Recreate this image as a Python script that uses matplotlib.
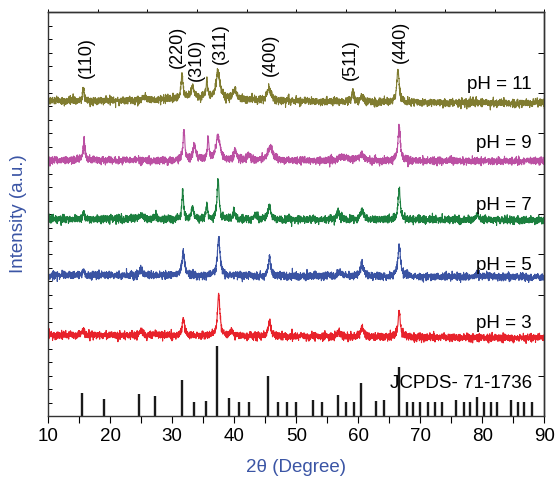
import numpy as np
import matplotlib
matplotlib.use('Agg')
import matplotlib.pyplot as plt

plt.rcParams['font.family'] = ['Liberation Sans', 'DejaVu Sans']

# reference pattern JCPDS 71-1736 (2theta, relative intensity)
ref_pos = [15.4, 18.95, 24.7, 27.2, 31.6, 33.6, 35.5, 37.2, 39.1, 40.7, 42.4,
           45.5, 47.0, 48.5, 49.9, 52.7, 54.1, 56.7, 58.0, 59.3, 60.5, 62.9,
           64.2, 66.6, 67.8, 68.9, 70.0, 71.2, 72.4, 73.5, 75.8, 77.0, 78.0,
           79.2, 80.3, 81.4, 82.4, 84.7, 85.7, 86.8, 88.0]
ref_int = [33, 25, 32, 29, 51, 20, 22, 100, 26, 20, 20,
           57, 20, 20, 20, 23, 20, 30, 20, 20, 47, 22,
           23, 70, 20, 20, 20, 20, 20, 20, 23, 20, 20,
           27, 20, 20, 20, 23, 20, 20, 20]

labels = ['pH = 3', 'pH = 5', 'pH = 7', 'pH = 9', 'pH = 11']
colors = ['#e8222b', '#3a53a3', '#1b7f3e', '#bb50a3', '#807c30']
base_left = [81, 141, 197, 256, 315]
base_right = [78, 139, 196, 255, 313]

peaks_ph3 = [(15.7, 5, 0.4), (25.0, 5, 0.6), (27.3, 3, 0.6), (31.8, 16, 0.5),
             (37.5, 43, 0.45), (39.5, 5, 0.5), (45.7, 15, 0.5), (56.8, 5, 0.6),
             (60.6, 10, 0.6), (66.6, 25, 0.5)]
peaks_ph5 = [(15.7, 5, 0.4), (25.0, 6, 0.6), (31.8, 24, 0.5), (37.5, 39, 0.5),
             (45.7, 20, 0.4), (57.0, 5, 0.6), (60.6, 13, 0.6), (66.6, 30, 0.5),
             (79.2, 3, 0.6)]
peaks_ph7 = [(15.7, 9, 0.25), (25.0, 5, 0.8), (27.4, 4, 0.6), (31.7, 30, 0.3),
             (33.3, 12, 0.4), (35.6, 15, 0.3), (37.4, 40, 0.4), (40.0, 8, 0.4),
             (43.4, 5, 0.5), (45.7, 14, 0.5), (56.8, 7, 0.6), (60.6, 10, 0.6),
             (66.6, 32, 0.4), (79.2, 5, 0.5)]
peaks_ph9 = [(15.8, 22, 0.3), (31.9, 30, 0.35), (33.6, 15, 0.5), (35.8, 22, 0.3),
             (37.4, 24, 0.8), (40.2, 10, 0.5), (42.3, 6, 0.5), (45.8, 14, 0.9),
             (57.5, 4, 1.5), (60.5, 5, 1.2), (66.6, 35, 0.45)]
peaks_ph11 = [(15.7, 13, 0.3), (25.5, 4, 0.6), (31.6, 24, 0.35), (33.3, 12, 0.5),
              (35.6, 19, 0.25), (37.4, 27, 0.7), (40.1, 10, 0.6), (45.6, 13, 0.8),
              (59.1, 10, 0.4), (60.6, 6, 0.5), (66.4, 32, 0.45), (35.0, 4, 15.0)]
all_peaks = [peaks_ph3, peaks_ph5, peaks_ph7, peaks_ph9, peaks_ph11]

# hkl labels (text, 2theta, height)
hkl_text = ['(110)', '(220)', '(310)', '(311)', '(400)', '(511)', '(440)']
hkl_x = [16.15, 30.9, 33.9, 37.7, 45.8, 58.8, 66.8]
hkl_y = [359, 369, 356, 373, 361, 357, 374]

label_y = [93, 151, 211, 273, 332]

tth = np.arange(10, 90.001, 0.02)
rng = np.random.default_rng(3)  # texture of the counting noise only

fig = plt.figure(figsize=(5.56, 4.79), dpi=100)
ax = fig.add_axes([0.0865, 0.1315, 0.8925, 0.843])

for i in range(5):
    y = base_left[i] + (base_right[i] - base_left[i]) * (tth - 10) / 80
    for p, h, w in all_peaks[i]:
        y = y + h / (1 + ((tth - p) / (w / 2)) ** 2)
    y = y + rng.normal(0, 1.9, tth.size)
    ax.plot(tth, y, color=colors[i], lw=0.8)
    ax.text(88.0, label_y[i], labels[i], ha='right', va='center', fontsize=13.5)

ax.vlines(ref_pos, 0, np.array(ref_int) * 0.7, color='#1a1a1a', lw=1.7)
ax.text(88.0, 33, 'JCPDS- 71-1736', ha='right', va='center', fontsize=13.5)

for t, x, yy in zip(hkl_text, hkl_x, hkl_y):
    ax.text(x, yy, t, rotation=90, ha='center', va='center', fontsize=13)

ax.set_xlim(10, 90)
ax.set_ylim(0, 404)
ax.set_xticks(np.arange(10, 91, 10))
ax.set_xticks(np.arange(15, 90, 10), minor=True)
ax.set_yticks(np.linspace(0, 404, 31))
ax.set_yticklabels([])
ax.tick_params(axis='x', which='both', direction='out', length=5, width=0.8,
               labelsize=13.5, top=False)
ax.tick_params(axis='y', direction='in', length=3, width=0.7, right=False)

top = ax.secondary_xaxis('top')
top.set_xticks(np.arange(10, 91, 8))
top.set_xticklabels([])
top.tick_params(direction='out', length=2, width=0.7)
right = ax.secondary_yaxis('right')
right.set_yticks(np.linspace(0, 404, 11))
right.set_yticklabels([])
right.tick_params(direction='in', length=4, width=0.7)

for s in list(ax.spines.values()) + [top.spines['top'], right.spines['right']]:
    s.set_color('#333333')
    s.set_linewidth(1.0)

ax.set_xlabel('2θ (Degree)', color='#3b55a5', fontsize=13.5, labelpad=10)
ax.set_ylabel('Intensity (a.u.)', color='#3b55a5', fontsize=13.5, labelpad=12)

fig.savefig('out.png', dpi=100)
